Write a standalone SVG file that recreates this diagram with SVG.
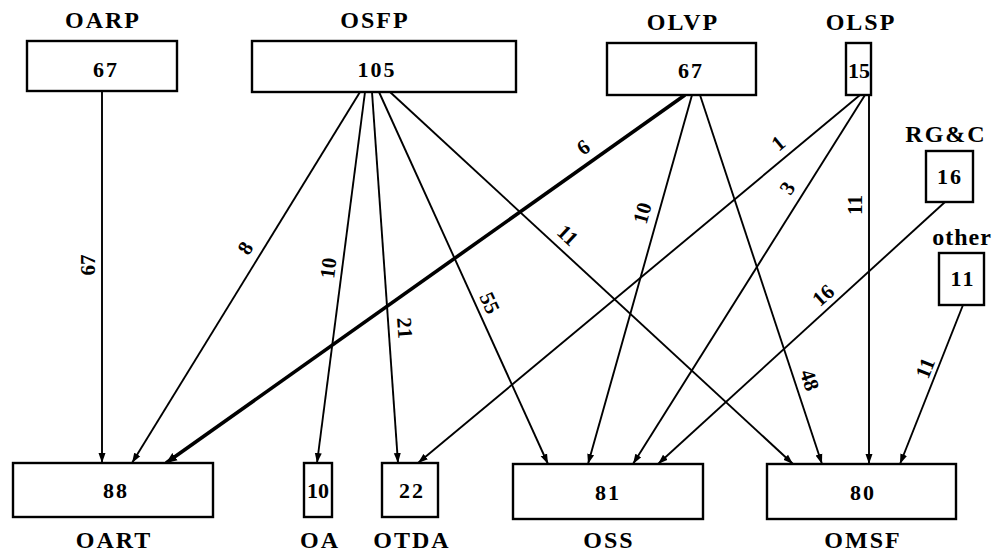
<svg xmlns="http://www.w3.org/2000/svg" width="1000" height="553" viewBox="0 0 1000 553">
<style>
.box{fill:#fff;stroke:#000;stroke-width:2.4}
.t{font-family:"Liberation Serif",serif;font-weight:bold;font-size:24px;letter-spacing:2px;text-anchor:middle;fill:#000}
.n{font-family:"Liberation Serif",serif;font-weight:bold;font-size:22px;letter-spacing:2px;text-anchor:middle;fill:#000}
.e{stroke:#000;stroke-width:1.9;fill:none;marker-end:url(#ah)}
.ek{stroke:#000;stroke-width:3.6;fill:none;marker-end:url(#ah2)}
.l{font-family:"Liberation Serif",serif;font-weight:bold;font-size:21px;text-anchor:middle;fill:#000}
</style>
<defs>
<marker id="ah" markerUnits="userSpaceOnUse" markerWidth="12" markerHeight="8" refX="10" refY="4" orient="auto">
<path d="M0,0.5 L10,4 L0,7.5 Z" fill="#000"/>
</marker>
<marker id="ah2" markerUnits="userSpaceOnUse" markerWidth="14" markerHeight="10" refX="11" refY="5" orient="auto">
<path d="M0,0.5 L11,5 L0,9.5 Z" fill="#000"/>
</marker>
</defs>
<rect width="1000" height="553" fill="#fff"/>
<g id="connectors">
<line class="e" x1="102" y1="91" x2="102" y2="463"/>
<line class="e" x1="360" y1="92" x2="132" y2="463"/>
<line class="e" x1="365" y1="92" x2="317" y2="463"/>
<line class="e" x1="372" y1="92" x2="398" y2="463"/>
<line class="e" x1="379" y1="92" x2="548" y2="464"/>
<line class="e" x1="390" y1="92" x2="793" y2="464"/>
<line class="ek" x1="685" y1="95" x2="166" y2="463"/>
<line class="e" x1="692" y1="95" x2="588" y2="464"/>
<line class="e" x1="700" y1="95" x2="822" y2="464"/>
<line class="e" x1="860" y1="95" x2="418" y2="463"/>
<line class="e" x1="865" y1="95" x2="633" y2="464"/>
<line class="e" x1="869" y1="95" x2="869" y2="464"/>
<line class="e" x1="945" y1="202" x2="658" y2="464"/>
<line class="e" x1="963" y1="305" x2="900" y2="464"/>
<text class="l" transform="translate(88,265) rotate(-90)" dy="0.35em">67</text>
<text class="l" transform="translate(245,248) rotate(-58)" dy="0.35em">8</text>
<text class="l" transform="translate(328,268) rotate(-83)" dy="0.35em">10</text>
<text class="l" transform="translate(405,328) rotate(86)" dy="0.35em">21</text>
<text class="l" transform="translate(490,303) rotate(65)" dy="0.35em">55</text>
<text class="l" transform="translate(568,235) rotate(43)" dy="0.35em">11</text>
<text class="l" transform="translate(583,147) rotate(-35)" dy="0.35em">6</text>
<text class="l" transform="translate(642,213) rotate(-74)" dy="0.35em">10</text>
<text class="l" transform="translate(810,380) rotate(72)" dy="0.35em">48</text>
<text class="l" transform="translate(778,143) rotate(-40)" dy="0.35em">1</text>
<text class="l" transform="translate(787,188) rotate(-58)" dy="0.35em">3</text>
<text class="l" transform="translate(855,205) rotate(-90)" dy="0.35em">11</text>
<text class="l" transform="translate(823,295) rotate(-42)" dy="0.35em">16</text>
<text class="l" transform="translate(925,368) rotate(-68)" dy="0.35em">11</text>
</g>
<g id="OARP">
<text class="t" x="103" y="28">OARP</text>
<rect class="box" x="27" y="41" width="150" height="50"/>
<text class="n" x="106" y="77">67</text>
</g>
<g id="OSFP">
<text class="t" x="375" y="28">OSFP</text>
<rect class="box" x="252" y="41" width="264" height="51"/>
<text class="n" x="377" y="77">105</text>
</g>
<g id="OLVP">
<text class="t" x="683" y="30">OLVP</text>
<rect class="box" x="607" y="43" width="149" height="52"/>
<text class="n" x="691" y="78">67</text>
</g>
<g id="OLSP">
<text class="t" x="861" y="30">OLSP</text>
<rect class="box" x="846" y="43" width="25" height="52"/>
<text class="n" x="859" y="78" style="letter-spacing:0">15</text>
</g>
<g id="RGC">
<text class="t" x="946" y="142">RG&amp;C</text>
<rect class="box" x="926" y="151" width="47" height="51"/>
<text class="n" x="950" y="184">16</text>
</g>
<g id="other">
<text class="t" x="962" y="245" style="letter-spacing:1px">other</text>
<rect class="box" x="939" y="253" width="45" height="52"/>
<text class="n" x="963" y="286">11</text>
</g>
<g id="OART">
<rect class="box" x="13" y="463" width="200" height="54"/>
<text class="n" x="116" y="498">88</text>
<text class="t" x="114" y="548">OART</text>
</g>
<g id="OA">
<rect class="box" x="304" y="463" width="28" height="54"/>
<text class="n" x="318" y="498" style="letter-spacing:0">10</text>
<text class="t" x="320" y="548">OA</text>
</g>
<g id="OTDA">
<rect class="box" x="382" y="463" width="56" height="54"/>
<text class="n" x="412" y="498">22</text>
<text class="t" x="412" y="548">OTDA</text>
</g>
<g id="OSS">
<rect class="box" x="513" y="464" width="190" height="55"/>
<text class="n" x="608" y="500">81</text>
<text class="t" x="609" y="548">OSS</text>
</g>
<g id="OMSF">
<rect class="box" x="767" y="464" width="189" height="55"/>
<text class="n" x="863" y="500">80</text>
<text class="t" x="863" y="548">OMSF</text>
</g>
</svg>
